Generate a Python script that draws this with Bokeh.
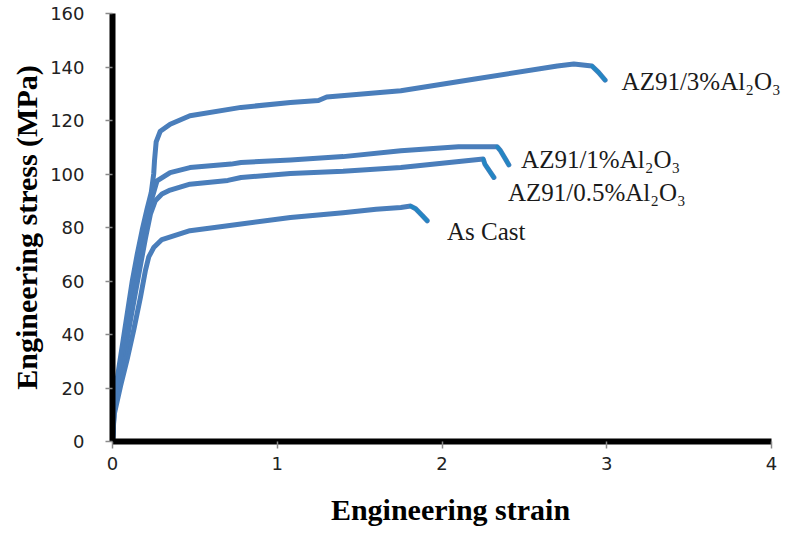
from bokeh.plotting import figure
from bokeh.models import Range1d, FixedTicker, ColumnDataSource, LabelSet
from bokeh.embed import file_html
from bokeh.resources import INLINE

# ---- data ----
cast_strain = [0, 0.01, 0.05, 0.09, 0.13, 0.17, 0.20, 0.22, 0.25, 0.30, 0.47, 0.62, 0.78, 1.08, 1.40, 1.60, 1.75, 1.81, 1.84, 1.88, 1.91]
cast_stress = [0, 10, 21, 31, 42, 54, 64, 69, 72.5, 75.5, 78.8, 80.0, 81.3, 83.7, 85.5, 86.8, 87.5, 88.0, 87.0, 84.5, 82.5]

p05_strain = [0, 0.01, 0.04, 0.075, 0.105, 0.14, 0.17, 0.20, 0.23, 0.26, 0.30, 0.35, 0.47, 0.70, 0.78, 1.08, 1.40, 1.75, 2.00, 2.25, 2.26, 2.315]
p05_stress = [0, 11, 21, 33, 44, 56, 66, 76, 85, 90, 92.5, 94.0, 96.2, 97.6, 98.7, 100.2, 101.0, 102.4, 104.0, 105.6, 103.7, 98.7]

p1_strain = [0, 0.01, 0.03, 0.06, 0.09, 0.12, 0.15, 0.18, 0.21, 0.24, 0.27, 0.35, 0.47, 0.72, 0.78, 1.08, 1.40, 1.75, 2.10, 2.334, 2.355, 2.406]
p1_stress = [0, 12, 21, 32, 43, 54, 64, 74, 83, 91, 97.4, 100.5, 102.4, 103.7, 104.3, 105.2, 106.5, 108.7, 110.2, 110.2, 108.7, 103.4]

p3_strain = [0, 0.01, 0.02, 0.045, 0.07, 0.095, 0.12, 0.15, 0.18, 0.21, 0.235, 0.25, 0.255, 0.265, 0.29, 0.35, 0.47, 0.78, 1.08, 1.25, 1.30, 1.75, 2.20, 2.70, 2.80, 2.91, 2.95, 2.99]
p3_stress = [0, 14, 20, 30, 40, 50, 60, 70, 79, 87, 93, 100, 105, 112, 116, 118.6, 121.8, 124.9, 126.7, 127.5, 128.8, 131.1, 135.5, 140.4, 141.1, 140.4, 138.0, 135.1]

labels = ["AZ91/3%Al\u2082O\u2083", "AZ91/1%Al\u2082O\u2083", "AZ91/0.5%Al\u2082O\u2083", "As Cast"]
label_strain = [3.09, 2.48, 2.40, 2.03]
label_stress = [134.5, 105.3, 93.0, 78.4]

x_ticks = [0, 1, 2, 3, 4]
y_ticks = [0, 20, 40, 60, 80, 100, 120, 140, 160]

LINE = "#4A7EBB"
HOOK = "#2386C3"

# frame spans 112..788 px; strain 4 sits at 771 px (axis line bounded to 0..4)
p = figure(width=788, height=533, output_backend="svg", toolbar_location=None,
           x_range=Range1d(0, 4.103), y_range=Range1d(0, 160),
           min_border_left=112, min_border_right=0, min_border_top=13, min_border_bottom=92)
p.outline_line_color = None
p.xgrid.visible = False
p.ygrid.visible = False
p.background_fill_color = "white"
p.border_fill_color = "white"

series = [(cast_strain, cast_stress, 3), (p05_strain, p05_stress, 2), (p1_strain, p1_stress, 2), (p3_strain, p3_stress, 2)]
for xs, ys, nh in series:
    p.line(xs, ys, line_color=LINE, line_width=5, line_join="round", line_cap="round")
    p.line(xs[-(nh + 1):], ys[-(nh + 1):], line_color=HOOK, line_width=3.5, line_join="round", line_cap="round")

src = ColumnDataSource(dict(x=label_strain, y=label_stress, t=labels))
p.add_layout(LabelSet(x="x", y="y", text="t", source=src, text_font="Liberation Serif",
                      text_font_size="25px", text_color="#1a1a1a", text_baseline="middle",
                      text_align="left"))

for ax in (p.xaxis[0], p.yaxis[0]):
    ax.axis_line_color = "black"
    ax.axis_line_width = 6
    ax.major_tick_line_color = "#8a8a8a"
    ax.major_tick_line_width = 1.5
    ax.major_tick_out = 7
    ax.major_tick_in = 0
    ax.minor_tick_line_color = None
    ax.major_label_text_font = "DejaVu Sans"
    ax.major_label_text_font_size = "18px"
    ax.major_label_text_color = "#222222"
    ax.axis_label_text_font = "Liberation Serif"
    ax.axis_label_text_font_style = "bold"
    ax.axis_label_text_font_size = "30px"
    ax.axis_label_text_color = "black"

p.xaxis.ticker = FixedTicker(ticks=x_ticks)
p.xaxis.bounds = (0, 4)
p.yaxis.ticker = FixedTicker(ticks=y_ticks)
p.xaxis.axis_label = "Engineering strain"
p.yaxis.axis_label = "Engineering stress (MPa)"
p.xaxis.major_label_standoff = 8
p.xaxis.axis_label_standoff = 20
p.yaxis.major_label_standoff = 21
p.yaxis.axis_label_standoff = 4

open("out.html", "w").write(file_html(p, INLINE))
